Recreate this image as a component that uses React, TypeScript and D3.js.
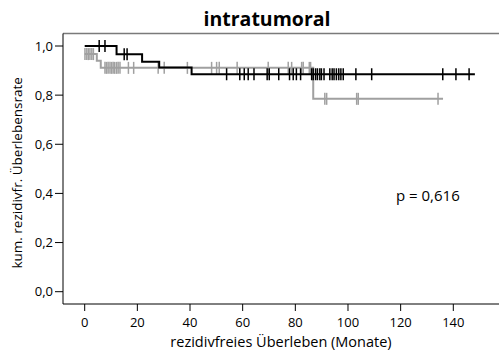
import * as d3 from 'd3';

// Kaplan-Meier steps (months, survival)
const blackTimes = [0, 12.1, 21.8, 28.3, 40.6];
const blackSurv = [1.0, 0.966, 0.936, 0.913, 0.885];
const blackEnd = 148.2;
const blackCensored = [
  5.5, 7.7, 15.0, 16.1, 53.9, 58.9, 60.6, 62.1, 64.3, 69.3, 70.1, 73.7, 77.8,
  79.2, 80.4, 82.0, 86.2, 86.8, 87.7, 88.4, 89.3, 89.9, 90.9, 93.1, 94.0, 94.7,
  95.6, 96.5, 97.3, 98.2, 103.0, 109.0, 136.0, 141.0, 146.0,
];

const grayTimes = [0, 4.6, 6.1, 86.8];
const graySurv = [0.967, 0.94, 0.911, 0.785];
const grayEnd = 136.1;
const grayCensored = [
  0.1, 0.8, 1.4, 2.0, 2.7, 3.3, 7.7, 8.3, 8.9, 9.6, 10.2, 10.8, 11.4, 12.1,
  12.7, 13.4, 16.6, 18.6, 27.9, 30.2, 39.0, 48.2, 50.1, 51.1, 57.9, 69.7, 77.3,
  78.6, 82.4, 83.0, 85.3, 85.8, 91.2, 91.9, 103.3, 103.9, 134.2,
];

const xTicks = [0, 20, 40, 60, 80, 100, 120, 140];
const yTicks = [0, 0.2, 0.4, 0.6, 0.8, 1.0];

const width = 499;
const height = 362;
const font = "'Open Sans', sans-serif";

const x = d3.scaleLinear().domain([0, 140]).range([84.7, 453.3]);
const y = d3.scaleLinear().domain([0, 1]).range([291.7, 46]);

type Pt = [number, number];

function stepPoints(times: number[], surv: number[], end: number): Pt[] {
  const pts: Pt[] = times.map((t, i) => [t, surv[i]]);
  pts.push([end, surv[surv.length - 1]]);
  return pts;
}

function survAt(times: number[], surv: number[], t: number): number {
  let s = surv[0];
  times.forEach((tt, i) => {
    if (tt <= t) s = surv[i];
  });
  return s;
}

const stepLine = d3
  .line<Pt>()
  .x((d) => x(d[0]))
  .y((d) => y(d[1]))
  .curve(d3.curveStepAfter);

function Curve({
  times,
  surv,
  end,
  censored,
  color,
}: {
  times: number[];
  surv: number[];
  end: number;
  censored: number[];
  color: string;
}) {
  return (
    <g>
      <path
        d={stepLine(stepPoints(times, surv, end)) ?? ''}
        fill="none"
        stroke={color}
        strokeWidth={2}
      />
      {censored.map((t, i) => {
        const cy = y(survAt(times, surv, t));
        return (
          <line
            key={i}
            x1={x(t)}
            x2={x(t)}
            y1={cy - 6}
            y2={cy + 6}
            stroke={color}
            strokeWidth={1.5}
          />
        );
      })}
    </g>
  );
}

export default function App() {
  const [x0, x1] = [63, width];
  const top = 33.5;
  const bottom = 304;
  return (
    <svg
      width={width}
      height={height}
      style={{ position: 'absolute', left: 0, top: 0, background: '#fff' }}
    >
      <text
        x={267}
        y={26}
        textAnchor="middle"
        fontFamily={font}
        fontWeight="bold"
        fontSize={19.5}
        fill="#000"
      >
        intratumoral
      </text>

      {/* frame */}
      <line x1={x0} x2={x1} y1={top} y2={top} stroke="#7a7a7a" strokeWidth={1.5} />
      <line x1={x0} x2={x0} y1={top} y2={bottom} stroke="#000" strokeWidth={1} />
      <line x1={x0} x2={x1} y1={bottom} y2={bottom} stroke="#000" strokeWidth={1} />

      {/* y axis */}
      {yTicks.map((v) => (
        <g key={v}>
          <line x1={55} x2={x0} y1={y(v)} y2={y(v)} stroke="#000" />
          <text
            x={53}
            y={y(v)}
            dy="0.35em"
            textAnchor="end"
            fontFamily={font}
            fontSize={13}
            fill="#000"
          >
            {d3.format('.1f')(v).replace('.', ',')}
          </text>
        </g>
      ))}
      <text
        transform={`translate(17,${(46 + 291.7) / 2 + 4}) rotate(-90)`}
        textAnchor="middle"
        dy="0.35em"
        fontFamily={font}
        fontSize={13.5}
        fill="#000"
      >
        kum. rezidivfr. Überlebensrate
      </text>

      {/* x axis */}
      {xTicks.map((v) => (
        <g key={v}>
          <line x1={x(v)} x2={x(v)} y1={bottom} y2={bottom + 7} stroke="#000" />
          <text
            x={x(v)}
            y={322}
            dy="0.35em"
            textAnchor="middle"
            fontFamily={font}
            fontSize={13}
            fill="#000"
          >
            {v}
          </text>
        </g>
      ))}
      <text
        x={281}
        y={342}
        dy="0.35em"
        textAnchor="middle"
        fontFamily={font}
        fontSize={14.5}
        fill="#000"
      >
        rezidivfreies Überleben (Monate)
      </text>

      <Curve
        times={grayTimes}
        surv={graySurv}
        end={grayEnd}
        censored={grayCensored}
        color="#a0a0a0"
      />
      <Curve
        times={blackTimes}
        surv={blackSurv}
        end={blackEnd}
        censored={blackCensored}
        color="#000"
      />

      <text x={396} y={196} dy="0.35em" fontFamily={font} fontSize={15} fill="#000">
        p = 0,616
      </text>
    </svg>
  );
}
